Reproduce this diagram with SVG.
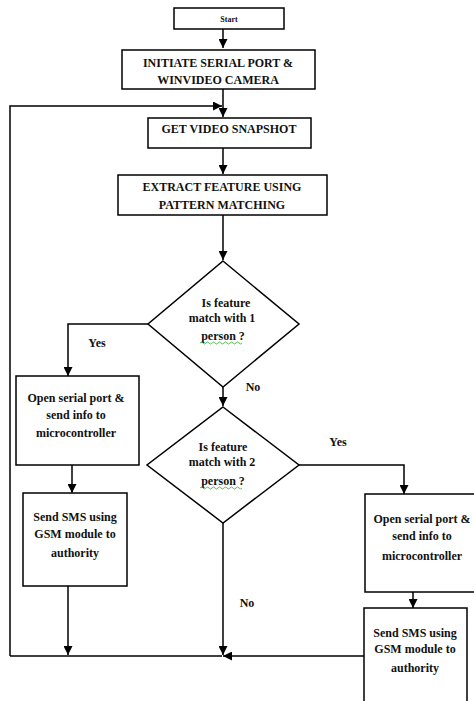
<svg xmlns="http://www.w3.org/2000/svg" width="474" height="701" viewBox="0 0 474 701">
<defs>
<marker id="ah" viewBox="0 0 10 10" refX="10" refY="5" markerWidth="9" markerHeight="9" markerUnits="userSpaceOnUse" orient="auto">
<path d="M0,0 L10,5 L0,10 z" fill="#000"/>
</marker>
</defs>
<style>
.box{fill:#fff;stroke:#000;stroke-width:1.5}
.ln{fill:none;stroke:#000;stroke-width:1.5}
.arr{fill:none;stroke:#000;stroke-width:1.5;marker-end:url(#ah)}
text{font-family:"Liberation Serif","Times New Roman",serif;font-weight:bold;font-size:12px;fill:#111;text-anchor:middle}
.sq{fill:none;stroke:#3a3;stroke-width:0.8}
</style>
<rect width="474" height="701" fill="#fff"/>
<g id="connectors">
<path class="arr" d="M223,29 V48"/>
<path class="arr" d="M223,89 V117"/>
<path class="arr" d="M10,656 V106 H222"/>
<path class="arr" d="M223,148 V174"/>
<path class="arr" d="M223,215 V260"/>
<path class="arr" d="M148,324 H68 V376"/>
<path class="arr" d="M223,387 V406"/>
<path class="arr" d="M72,465 V493"/>
<path class="arr" d="M68,586 V655"/>
<path class="ln" d="M10,656 H222"/>
<path class="arr" d="M299,465 H404 V494"/>
<path class="arr" d="M413,592 V608"/>
<path class="arr" d="M223,523 V655"/>
<path class="arr" d="M364,656 H223"/>
<text x="97" y="347">Yes</text>
<text x="253" y="391">No</text>
<text x="338" y="446">Yes</text>
<text x="247" y="607">No</text>
</g>
<g id="start">
<rect class="box" x="174" y="8" width="110" height="21"/>
<text x="229" y="22" style="font-size:8px">Start</text>
</g>
<g id="init">
<rect class="box" x="122" y="50" width="193" height="39"/>
<text x="218" y="67">INITIATE SERIAL PORT &amp;</text>
<text x="218" y="84">WINVIDEO CAMERA</text>
</g>
<g id="snapshot">
<rect class="box" x="148" y="118" width="163" height="30"/>
<text x="229" y="133">GET VIDEO SNAPSHOT</text>
</g>
<g id="extract">
<rect class="box" x="118" y="175" width="209" height="40"/>
<text x="222" y="191">EXTRACT FEATURE USING</text>
<text x="222" y="209">PATTERN MATCHING</text>
</g>
<g id="decision1">
<polygon class="box" points="223,261 299,324 223,387 148,324"/>
<text x="226" y="307">Is feature</text>
<text x="222" y="322">match with 1</text>
<text x="223" y="340">person ?</text>
<path class="sq" d="M200,343 q1.5,-2 3,0 t3,0 t3,0 t3,0 t3,0 t3,0 t3,0 t3,0 t3,0 t3,0 t3,0 t3,0 t3,0 t3,0"/>
</g>
<g id="serial1">
<rect class="box" x="16" y="376" width="123" height="89"/>
<text x="76" y="402">Open serial port &amp;</text>
<text x="76" y="419">send info to</text>
<text x="76" y="437">microcontroller</text>
</g>
<g id="sms1">
<rect class="box" x="23" y="493" width="104" height="93"/>
<text x="75" y="521">Send SMS using</text>
<text x="75" y="538">GSM module to</text>
<text x="75" y="557">authority</text>
</g>
<g id="decision2">
<polygon class="box" points="223,407 299,465 223,523 147,465"/>
<text x="223" y="451">Is feature</text>
<text x="222" y="466">match with 2</text>
<text x="223" y="485">person ?</text>
<path class="sq" d="M200,488 q1.5,-2 3,0 t3,0 t3,0 t3,0 t3,0 t3,0 t3,0 t3,0 t3,0 t3,0 t3,0 t3,0 t3,0 t3,0"/>
</g>
<g id="serial2">
<rect class="box" x="365" y="494" width="112" height="98"/>
<text x="422" y="523">Open serial port &amp;</text>
<text x="422" y="540">send info to</text>
<text x="422" y="560">microcontroller</text>
</g>
<g id="sms2">
<rect class="box" x="364" y="608" width="103" height="100"/>
<text x="415" y="637">Send SMS using</text>
<text x="415" y="653">GSM module to</text>
<text x="415" y="672">authority</text>
</g>
</svg>
